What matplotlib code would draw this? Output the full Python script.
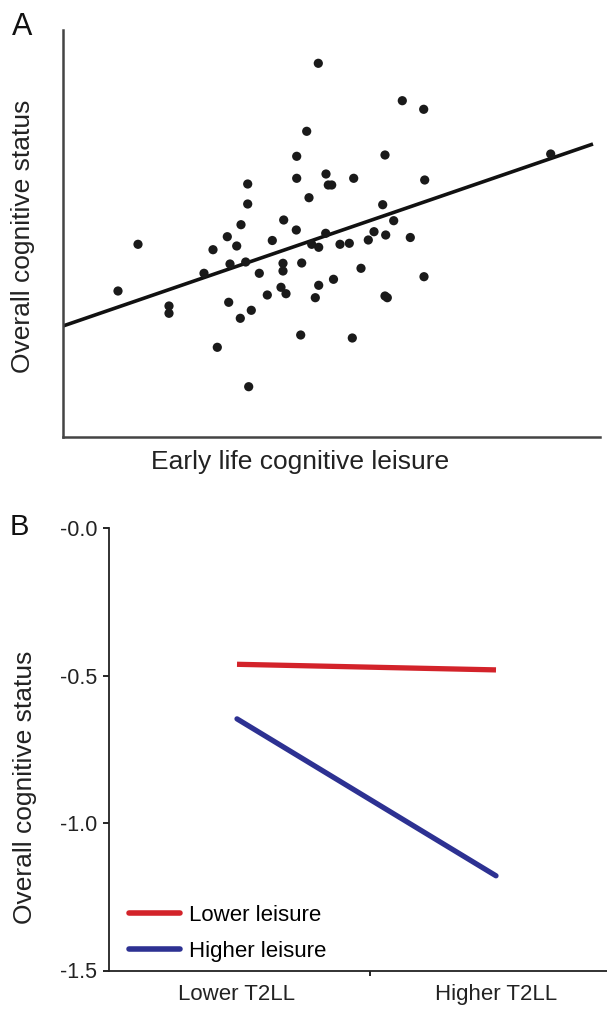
import matplotlib
matplotlib.use("Agg")
import matplotlib.pyplot as plt
import numpy as np

plt.rcParams['font.family'] = ['Liberation Sans', 'DejaVu Sans']

# panel A: early life cognitive leisure vs overall cognitive status (arbitrary units)
leisure = np.array([255.3, 243.7, 233.7, 233.7, 263, 265.3, 268.7, 290.7, 184.7, 184.7,
                    246, 178, 220.7, 233.3, 262.7, 164.3, 209.3, 339.3, 360.7, 487.7,
                    322, 361.7, 319.7, 330.7, 311, 322.7, 347.3, 305.3, 286.3, 75,
                    173.7, 150, 248.7, 255.7, 277, 167, 182.7, 141, 220, 220,
                    238.7, 196.3, 55, 218, 223, 255.7, 270.5, 204.3, 252.3, 106,
                    106, 165.7, 188.3, 177.3, 237.7, 289.3, 154.3, 185.7, 298, 361,
                    322, 324.3])
status = np.array([373.7, 305.7, 280.7, 258.7, 263, 252, 252, 258.7, 253, 233,
                   239.3, 212.3, 217, 207, 203.7, 200.3, 196.5, 336.3, 327.7, 283,
                   282, 257, 232.3, 216.3, 205.3, 202, 199.5, 197, 193.7, 192.7,
                   191, 187.3, 192.7, 189.7, 192.7, 173, 175, 163.7, 173.7, 166,
                   174, 163.7, 146, 149.7, 143.3, 151.7, 157.7, 142, 139.3, 131,
                   123.7, 134.7, 126.7, 118.7, 102, 99, 89.7, 50.3, 168.7, 160.3,
                   141, 139.3])
fit_intercept = 111.0
fit_slope = 0.3434
fit_range = [0, 530]

# panel B: simple slopes
t2ll_labels = ['Lower T2LL', 'Higher T2LL']
lower_leisure = [-0.462, -0.481]
higher_leisure = [-0.647, -1.179]
yticks_b = [0.0, -0.5, -1.0, -1.5]
ytick_labels_b = ['-0.0', '-0.5', '-1.0', '-1.5']

fig = plt.figure(figsize=(6.07, 10.10), dpi=100)

# ---- panel A
axA = fig.add_axes([63/607, 1-437/1010, 537/607, 407/1010])
axA.scatter(leisure, status, s=44, color='#1a1a1a', edgecolors='none', zorder=3)
fx = np.array(fit_range)
axA.plot(fx, fit_intercept + fit_slope*fx, color='#111111', lw=2.6, solid_capstyle='butt')
axA.set_xlim(0, 537)
axA.set_ylim(0, 407)
axA.set_xticks([])
axA.set_yticks([])
for s in ['top', 'right']:
    axA.spines[s].set_visible(False)
for s in ['left', 'bottom']:
    axA.spines[s].set_linewidth(1.8)
    axA.spines[s].set_color('#444444')
axA.set_xlabel('Early life cognitive leisure', fontsize=19, color='#222222')
axA.xaxis.set_label_coords(0.441, -0.032)
axA.set_ylabel('Overall cognitive status', fontsize=19, color='#222222')
axA.yaxis.set_label_coords(-0.052, 0.494)

# ---- panel B
axB = fig.add_axes([109/607, 1-970.5/1010, 498/607, 442.5/1010])
xpos = [0, 1]
axB.plot(xpos, lower_leisure, color='#d3232a', lw=3.8, solid_capstyle='butt', label='Lower leisure')
axB.plot(xpos, higher_leisure, color='#2d3192', lw=3.8, solid_capstyle='round', label='Higher leisure')
axB.set_ylim(-1.5, 0.0)
axB.set_xlim(-128/259, 370/259)
axB.set_yticks(yticks_b)
axB.set_yticklabels(ytick_labels_b, fontsize=15.5, color='#222222')
axB.tick_params(axis='y', length=4.5, width=1.2, pad=4)
axB.set_xticks([0.515])
axB.set_xticklabels([''])
axB.tick_params(axis='x', length=3.5, width=1.2)
axB.set_xticks(xpos, minor=True)
axB.set_xticklabels(t2ll_labels, minor=True, fontsize=16, color='#222222')
axB.tick_params(axis='x', which='minor', length=0, pad=10)
for s in ['top', 'right']:
    axB.spines[s].set_visible(False)
for s in ['left', 'bottom']:
    axB.spines[s].set_linewidth(1.3)
    axB.spines[s].set_color('#222222')
axB.set_ylabel('Overall cognitive status', fontsize=19, color='#222222')
axB.yaxis.set_label_coords(-0.145, 0.415)
leg = axB.legend(loc='center left', bbox_to_anchor=(0.04, 0.084), frameon=False,
                 fontsize=16, handlelength=2.3, handletextpad=0.4,
                 labelspacing=0.7, borderpad=0, borderaxespad=0)
for h in leg.get_lines():
    h.set_linewidth(4)
    h.set_solid_capstyle('round')

fig.text(0.0198, 1-35/1010, 'A', fontsize=22, va='baseline', color='#111111')
fig.text(0.0165, 1-535/1010, 'B', fontsize=21, va='baseline', color='#111111')

fig.savefig('out.png', dpi=100)
